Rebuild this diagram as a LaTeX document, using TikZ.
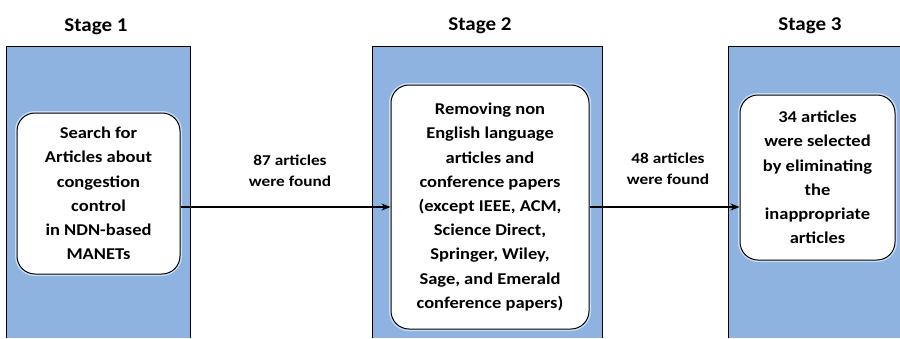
\documentclass[tikz,border=0pt]{standalone}
\usepackage{fontspec}
\setmainfont{Carlito}
\newfontfamily\boxfont[FakeStretch=1.12]{Carlito}
\newfontfamily\lblfont[FakeStretch=1.15]{Carlito}
\newfontfamily\titlefont[FakeStretch=1.08]{Carlito}
\usetikzlibrary{arrows.meta}
\definecolor{colblue}{HTML}{8EB3E0}
\definecolor{glow}{HTML}{C9DDF3}
\tikzset{
  column/.style={fill=colblue},
  coledge/.style={draw=black, line width=0.9pt},
  stagebox/.style={draw=black, fill=white, rounded corners=18pt, line width=1pt,
    align=center, inner sep=0pt, font=\boxfont\bfseries\fontsize{16.5}{24.2}\selectfont,
    preaction={draw=glow, line width=4pt}},
  title/.style={font=\titlefont\bfseries\fontsize{19.5}{22}\selectfont, anchor=base},
  lbl/.style={font=\lblfont\bfseries\fontsize{15}{21}\selectfont, align=center},
  arr/.style={draw=black, line width=1.2pt, -{Stealth[length=9pt,width=7pt]}}
}
\begin{document}
\begin{tikzpicture}[x=1pt,y=-1pt]
\useasboundingbox (0,0) rectangle (900,338);
% columns
\fill[column] (6,46) rectangle (190,338);
\fill[column] (372,46) rectangle (602,338);
\fill[column] (728,46) rectangle (900,338);
\draw[coledge] (6,338) -- (6,46) -- (190,46) -- (190,338);
\draw[coledge] (372,338) -- (372,46) -- (602,46) -- (602,338);
\draw[coledge] (728,338) -- (728,46) -- (900,46);
% titles
\node[title] (t1) at (96,31) {Stage 1};
\node[title] (t2) at (480,30) {Stage 2};
\node[title] (t3) at (810,30) {Stage 3};
% boxes
\node[stagebox, minimum width=163pt, minimum height=161pt] (b1) at (98.5,193.5)
  {Search for\\Articles about\\congestion\\control\\in NDN-based\\MANETs};
\node[stagebox, minimum width=198pt, minimum height=244pt] (b2) at (490,207)
  {Removing non\\English language\\articles and\\conference papers\\(except IEEE, ACM,\\Science Direct,\\Springer, Wiley,\\Sage, and Emerald\\conference papers)};
\node[stagebox, minimum width=155pt, minimum height=165pt] (b3) at (817.5,177.5)
  {34 articles\\were selected\\by eliminating\\the\\inappropriate\\articles};
% connectors
\draw[arr] (b1.east |- b2.west) -- (b2.west);
\draw[arr] (b2.east) -- (b3.west |- b2.east);
% labels
\node[lbl] (l1) at (290,171) {87 articles\\were found};
\node[lbl] (l2) at (668,169) {48 articles\\were found};
\end{tikzpicture}
\end{document}
